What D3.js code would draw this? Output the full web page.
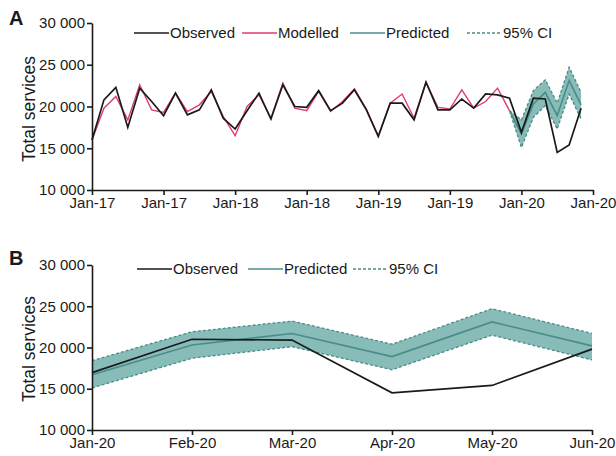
<!DOCTYPE html>
<html>
<head>
<meta charset="utf-8">
<script src="https://cdn.jsdelivr.net/npm/d3@7"></script>
<style>
  body { margin: 0; background: #fff; }
  svg { display: block; }
  svg text { font-family: "Liberation Sans", Arimo, Arial, Helvetica, sans-serif; }
</style>
</head>
<body>
<svg id="chart" width="616" height="456"></svg>
<script>
// monthly totals, Jan-17 .. Jun-20 (panel A)
var observed = [
  16000, 20800, 22300, 17500, 22200, 20600, 18900, 21600, 19000, 19600, 22000, 18600,
  17300, 19500, 21600, 18500, 22600, 20000, 19900, 21900, 19500, 20400, 22000, 19600,
  16400, 20400, 20400, 18400, 22900, 19600, 19600, 20900, 19800, 21500, 21400, 21000,
  16900, 21000, 20900, 14500, 15400, 19800
];
// model fit, Jan-17 .. Dec-19
var modelled = [
  16000, 19800, 21200, 18400, 22600, 19600, 19300, 21600, 19400, 20200, 21800, 18800,
  16500, 20000, 21400, 18600, 22800, 19800, 19500, 21800, 19400, 20600, 22100, 19700,
  16500, 20400, 21500, 18600, 22900, 19900, 19700, 22000, 19800, 20600, 22200, 19500
];
// prediction, Jan-20 .. Jun-20
var predMonths = ["Jan-20", "Feb-20", "Mar-20", "Apr-20", "May-20", "Jun-20"];
var predicted = [16700, 20300, 21700, 18900, 23100, 20200];
var ciUpper = [18400, 21900, 23200, 20400, 24700, 21700];
var ciLower = [15100, 18700, 20100, 17300, 21500, 18500];
var observedB = [16950, 21000, 20900, 14500, 15400, 19800];

var xTicksA = [0, 6, 12, 18, 24, 30, 36, 42];
var xTickLabelsA = ["Jan-17", "Jan-17", "Jan-18", "Jan-18", "Jan-19", "Jan-19", "Jan-20", "Jan-20"];
var yTicks = [10000, 15000, 20000, 25000, 30000];
var yTickLabels = ["10 000", "15 000", "20 000", "25 000", "30 000"];

var font = "'Liberation Sans', Arimo, Arial, Helvetica, sans-serif";
var black = "#1a1a1a";
var pink = "#e23a78";
var teal = "#4a8c88";
var tealFill = "#88bcb8";

var svg = d3.select("#chart").attr("font-family", font);

// ---------- panel A ----------
var xA = d3.scaleLinear().domain([0, 42]).range([92, 593]);
var yA = d3.scaleLinear().domain([10000, 30000]).range([190, 23]);

// prediction in A joins on from the last modelled month (index 35)
var predA = [{ i: 35, v: modelled[35], lo: modelled[35], hi: modelled[35] }].concat(
  predicted.map(function(v, k) {
    return { i: 36 + k, v: v, lo: ciLower[k], hi: ciUpper[k] };
  })
);

var gA = svg.append("g");

gA.append("path")
  .datum(predA)
  .attr("fill", tealFill)
  .attr("d", d3.area()
    .x(function(d) { return xA(d.i); })
    .y0(function(d) { return yA(d.lo); })
    .y1(function(d) { return yA(d.hi); }));

["lo", "hi"].forEach(function(k) {
  gA.append("path")
    .datum(predA)
    .attr("fill", "none")
    .attr("stroke", teal)
    .attr("stroke-width", 1.3)
    .attr("stroke-dasharray", "3,2")
    .attr("d", d3.line()
      .x(function(d) { return xA(d.i); })
      .y(function(d) { return yA(d[k]); }));
});

gA.append("path")
  .datum(predA)
  .attr("fill", "none")
  .attr("stroke", teal)
  .attr("stroke-width", 1.6)
  .attr("d", d3.line()
    .x(function(d) { return xA(d.i); })
    .y(function(d) { return yA(d.v); }));

gA.append("path")
  .datum(modelled)
  .attr("fill", "none")
  .attr("stroke", pink)
  .attr("stroke-width", 1.4)
  .attr("d", d3.line()
    .x(function(d, i) { return xA(i); })
    .y(function(d) { return yA(d); }));

gA.append("path")
  .datum(observed)
  .attr("fill", "none")
  .attr("stroke", black)
  .attr("stroke-width", 1.7)
  .attr("d", d3.line()
    .x(function(d, i) { return xA(i); })
    .y(function(d) { return yA(d); }));

// ---------- panel B ----------
var xB = d3.scalePoint().domain(predMonths).range([92, 592]);
var yB = d3.scaleLinear().domain([10000, 30000]).range([430, 265]);

var gB = svg.append("g");

gB.append("path")
  .datum(predMonths)
  .attr("fill", tealFill)
  .attr("d", d3.area()
    .x(function(d) { return xB(d); })
    .y0(function(d, i) { return yB(ciLower[i]); })
    .y1(function(d, i) { return yB(ciUpper[i]); }));

[ciLower, ciUpper].forEach(function(arr) {
  gB.append("path")
    .datum(arr)
    .attr("fill", "none")
    .attr("stroke", teal)
    .attr("stroke-width", 1.3)
    .attr("stroke-dasharray", "3,2")
    .attr("d", d3.line()
      .x(function(d, i) { return xB(predMonths[i]); })
      .y(function(d) { return yB(d); }));
});

gB.append("path")
  .datum(predicted)
  .attr("fill", "none")
  .attr("stroke", teal)
  .attr("stroke-width", 1.6)
  .attr("d", d3.line()
    .x(function(d, i) { return xB(predMonths[i]); })
    .y(function(d) { return yB(d); }));

gB.append("path")
  .datum(observedB)
  .attr("fill", "none")
  .attr("stroke", black)
  .attr("stroke-width", 1.7)
  .attr("d", d3.line()
    .x(function(d, i) { return xB(predMonths[i]); })
    .y(function(d) { return yB(d); }));

// ---------- axes ----------
function styleAxis(g) {
  g.attr("font-family", font).attr("font-size", 15);
  g.selectAll("path, line").attr("stroke", black).attr("stroke-width", 1.6);
  g.selectAll("text").attr("fill", black);
}

svg.append("g")
  .attr("transform", "translate(92,0)")
  .call(d3.axisLeft(yA).tickValues(yTicks).tickSize(5).tickSizeOuter(0).tickPadding(2)
    .tickFormat(function(d, i) { return yTickLabels[i]; }))
  .call(styleAxis);

svg.append("g")
  .attr("transform", "translate(0,190)")
  .call(d3.axisBottom(xA).tickValues(xTicksA).tickSize(5).tickSizeOuter(0).tickPadding(2)
    .tickFormat(function(d, i) { return xTickLabelsA[i]; }))
  .call(styleAxis);

svg.append("g")
  .attr("transform", "translate(92,0)")
  .call(d3.axisLeft(yB).tickValues(yTicks).tickSize(5).tickSizeOuter(0).tickPadding(2)
    .tickFormat(function(d, i) { return yTickLabels[i]; }))
  .call(styleAxis);

svg.append("g")
  .attr("transform", "translate(0,430)")
  .call(d3.axisBottom(xB).tickSize(5).tickSizeOuter(0).tickPadding(2))
  .call(styleAxis);

svg.selectAll(".domain").attr("fill", "none");

// ---------- titles ----------
[[109, "A", 25], [349, "B", 265]].forEach(function(p) {
  svg.append("text")
    .attr("transform", "translate(35," + p[0] + ") rotate(-90)")
    .attr("text-anchor", "middle")
    .attr("fill", black)
    .attr("font-size", 17.5)
    .text("Total services");
  svg.append("text")
    .attr("x", 9)
    .attr("y", p[2])
    .attr("fill", black)
    .attr("font-size", 20)
    .attr("font-weight", "bold")
    .text(p[1]);
});

// ---------- legends ----------
var legendA = [
  { label: "Observed", color: black, x: 134, dash: null },
  { label: "Modelled", color: pink, x: 242, dash: null },
  { label: "Predicted", color: teal, x: 350, dash: null },
  { label: "95% CI", color: teal, x: 467, dash: "3,2" }
];
var legendB = [
  { label: "Observed", color: black, x: 137, dash: null },
  { label: "Predicted", color: teal, x: 248, dash: null },
  { label: "95% CI", color: teal, x: 353, dash: "3,2" }
];

function drawLegend(items, y) {
  var g = svg.append("g").selectAll("g").data(items).enter().append("g");
  g.append("line")
    .attr("x1", function(d) { return d.x; })
    .attr("x2", function(d) { return d.x + 35; })
    .attr("y1", y)
    .attr("y2", y)
    .attr("stroke", function(d) { return d.color; })
    .attr("stroke-width", 1.6)
    .attr("stroke-dasharray", function(d) { return d.dash; });
  g.append("text")
    .attr("x", function(d) { return d.x + 36; })
    .attr("y", y)
    .attr("dy", "0.35em")
    .attr("fill", black)
    .attr("font-size", 15)
    .text(function(d) { return d.label; });
}
drawLegend(legendA, 33);
drawLegend(legendB, 269);
</script>
</body>
</html>
